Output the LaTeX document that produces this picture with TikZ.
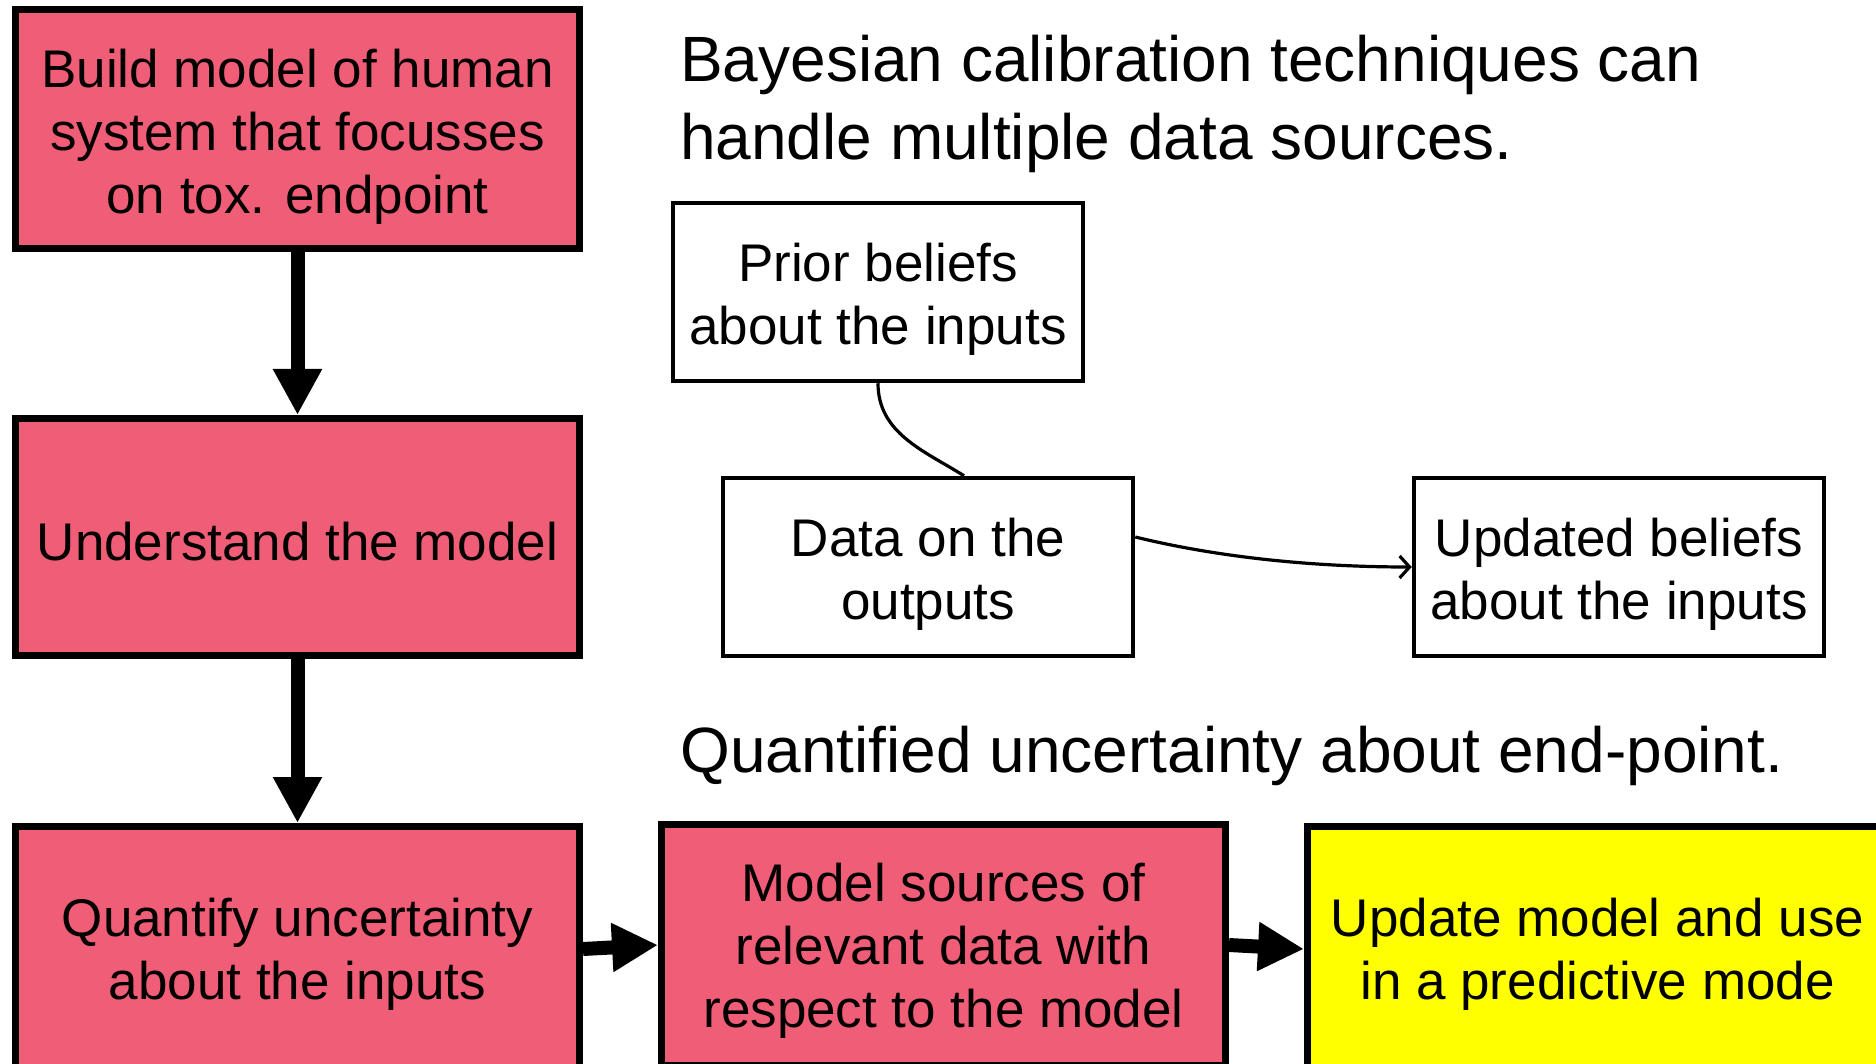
\documentclass[tikz,border=0pt]{standalone}
\usepackage{fontspec}
\setmainfont{Liberation Sans}
\usetikzlibrary{arrows.meta}
\definecolor{stepred}{RGB}{240,93,118}
\definecolor{stepyellow}{RGB}{255,255,0}
% an invisible strut on the first line lowers the text block inside its box
\newcommand\firstline[1]{\rule{0pt}{#1}}

\begin{document}
\begin{tikzpicture}[x=1pt,y=-1pt,
  stage/.style={draw=black, line width=7pt, fill=stepred, rectangle,
    minimum width=564pt, inner sep=0pt, align=center,
    font=\fontsize{53}{63}\selectfont},
  note/.style={draw=black, line width=4.5pt, fill=white, rectangle,
    minimum width=410pt, minimum height=178pt, inner sep=0pt, align=center,
    font=\fontsize{53}{63}\selectfont},
  heading/.style={inner sep=0pt, align=left, anchor=base west,
    font=\fontsize{64}{78}\selectfont},
  flow/.style={draw=black, line width=14pt,
    -{Triangle[length=46pt 0 0, width=46pt 0 0]}},
  link/.style={draw=black, line width=3.2pt},
]
\useasboundingbox (0,0) rectangle (1876,1064);
\fill[white] (0,0) rectangle (1876,1064);

% main workflow
\node[stage, minimum height=239pt] (build) at (297.5,129)
  {\firstline{55pt}Build model of human\\system that focusses\\on tox. endpoint};
\node[stage, minimum height=237pt] (understand) at (297.5,537)
  {\firstline{47pt}Understand the model};
\node[stage, minimum height=245pt] (quantify) at (297.5,949)
  {\firstline{49pt}Quantify uncertainty\\about the inputs};
\node[stage, minimum height=241pt] (sources) at (943.5,945)
  {\firstline{49pt}Model sources of\\relevant data with\\respect to the model};
\node[stage, fill=stepyellow, minimum width=580pt, minimum height=245pt] (update) at (1597.5,949)
  {\firstline{49pt}Update model and use\\in a predictive mode};

\draw[flow] (build.south) -- (understand.north);
\draw[flow] (understand.south) -- (quantify.north);
\draw[flow] (quantify.east) -- (sources.west);
\draw[flow] (sources.east) -- (update.west);

% Bayesian calibration sketch
\node[heading] (bayes) at (680,160)
  {Bayesian calibration techniques can\\handle multiple data sources.};
\node[note] (prior) at (878,292) {\firstline{53pt}Prior beliefs\\about the inputs};
\node[note] (data) at (928,567) {\firstline{53pt}Data on the\\outputs};
\node[note] (updated) at (1619,567) {\firstline{53pt}Updated beliefs\\about the inputs};

\draw[link] (prior.south) .. controls +(0,50) and +(-40,-25) .. ([xshift=36pt]data.north);
\draw[link, -{Straight Barb[length=10pt 0 0, width=22pt 0 0]}]
  ([yshift=30pt]data.east) .. controls +(90,22) and +(-90,0) .. (updated.west);

\node[heading] (quant) at (680,772) {Quantified uncertainty about end-point.};
\end{tikzpicture}
\end{document}
